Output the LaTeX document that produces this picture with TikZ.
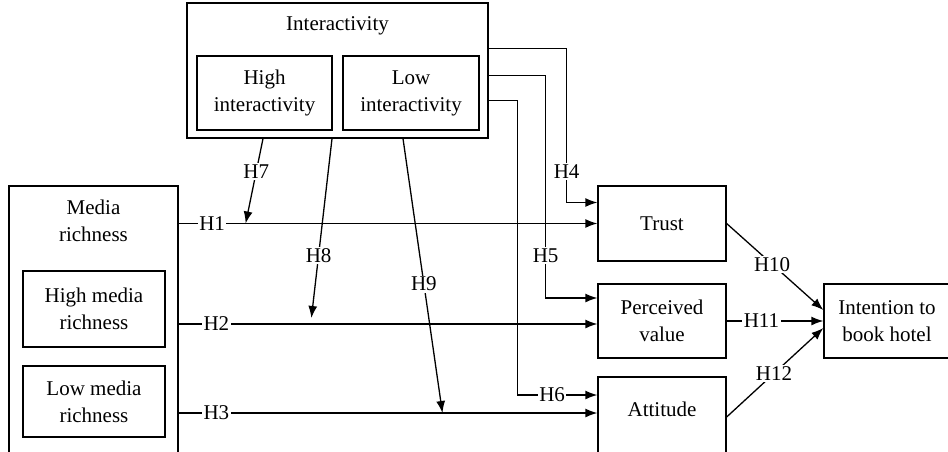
\documentclass[tikz,border=0pt]{standalone}
\usepackage{fontspec}
\setmainfont{Liberation Serif}
\usetikzlibrary{arrows.meta, positioning, calc}

\begin{document}
\begin{tikzpicture}[x=1pt,y=-1pt,line width=1.3pt,
        every node/.style={font=\fontsize{21}{27}\selectfont,align=center},
        box/.style={draw,rectangle,inner sep=0pt},
        lbl/.style={fill=white,inner sep=1.5pt},
        arr/.style={-{Latex[length=12pt,width=9pt]}}]
        \useasboundingbox (0,0) rectangle (948,451);

        % Interactivity block
        \node[box,minimum width=301pt,minimum height=135pt] (inter) at (337.5,70.5) {};
        \node (intertxt) at (337.5,26) {Interactivity};
        \node[box,minimum width=135pt,minimum height=74pt] (hi) at (264.5,93) {High\\interactivity};
        \node[box,minimum width=136pt,minimum height=74pt] (lo) at (411,93) {Low\\interactivity};

        % Media richness block
        \node[box,minimum width=169pt,minimum height=267pt] (media) at (93.5,319.5) {};
        \node (mediatxt) at (93.5,221) {Media\\richness};
        \node[box,minimum width=142pt,minimum height=76pt] (hmr) at (94,309) {High media\\richness};
        \node[box,minimum width=142pt,minimum height=71pt] (lmr) at (94,401.5) {Low media\\richness};

        % Outcomes
        \node[box,minimum width=128pt,minimum height=75pt] (trust) at (662,223.5) {Trust};
        \node[box,minimum width=128pt,minimum height=74pt] (pv) at (662,321) {Perceived\\value};
        \node[box,minimum width=128pt,minimum height=76pt,text depth=12pt] (att) at (662,415) {Attitude};
        \node[box,minimum width=126pt,minimum height=74pt] (intent) at (887,321) {Intention to\\book hotel};

        \coordinate (pvin) at ([yshift=-3pt]pv.west);
        \coordinate (attin) at ([yshift=2pt]att.west);

        % Media richness -> outcomes
        \draw[arr] (media.east |- trust.west) -- node[lbl,pos=0.08]{H1}
            coordinate[pos=0.16] (m1) (trust.west);
        \draw[arr] (media.east |- pvin) -- node[lbl,pos=0.09]{H2}
            coordinate[pos=0.317] (m2) (pvin);
        \draw[arr] (media.east |- attin) -- node[lbl,pos=0.09]{H3}
            coordinate[pos=0.63] (m3) (attin);

        % Interactivity -> outcomes
        \draw[arr] ([yshift=-46pt]inter.north east) -- ++(78,0)
            |- node[lbl,pos=0.4]{H4} ([yshift=21pt]trust.west);
        \draw[arr] ([yshift=-73pt]inter.north east) -- ++(57,0)
            |- node[lbl,pos=0.405]{H5} ([yshift=23pt]pv.west);
        \draw[arr] ([yshift=-98pt]inter.north east) -- ++(29,0)
            |- node[lbl,pos=0.716]{H6} ([yshift=20pt]att.west);

        % Moderation
        \draw[arr] ([xshift=-74.5pt]inter.south) -- node[lbl,pos=0.39]{H7} (m1);
        \draw[arr] ([xshift=-5.5pt]inter.south) -- node[lbl,pos=0.65]{H8} ([yshift=6pt]m2);
        \draw[arr] ([xshift=65.5pt]inter.south) -- node[lbl,pos=0.53]{H9} (m3);

        % Outcomes -> intention
        \draw[arr] (trust.east) -- node[lbl,pos=0.47]{H10} ([yshift=11pt]intent.west);
        \draw[arr] (pv.east) -- node[lbl,pos=0.36]{H11} (intent.west);
        \draw[arr] ([yshift=-2pt]att.east) -- node[lbl,pos=0.49]{H12} ([yshift=-7pt]intent.west);
\end{tikzpicture}
\end{document}
